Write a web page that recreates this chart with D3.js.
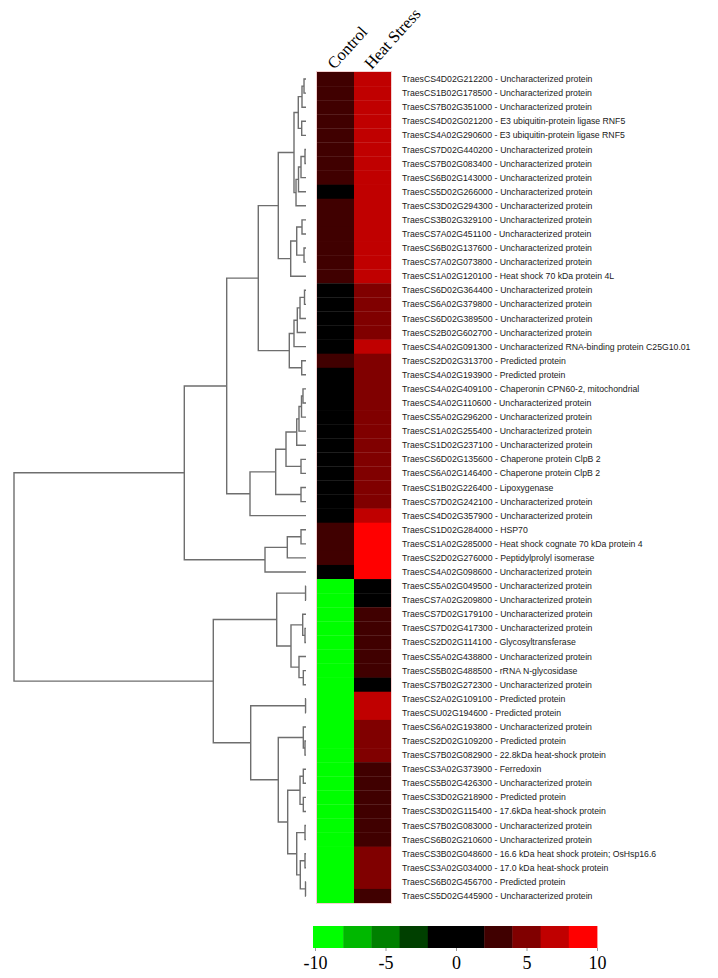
<!DOCTYPE html>
<html lang="en">
<head>
<meta charset="UTF-8">
<title>Heat stress heatmap</title>
<style>
  body { margin: 0; background: #fff; }
  svg { display: block; }
  .gene { font-family: "Liberation Sans", Arial, sans-serif; font-size: 8.7px; fill: #1a1a1a; }
  .serif { font-family: "Liberation Serif", "Times New Roman", serif; fill: #000; }
</style>
</head>
<body>
<svg id="chart"></svg>
<script src="https://cdn.jsdelivr.net/npm/d3@7/dist/d3.min.js"></script>
<script>
// rows, top to bottom
const genes = [
  "TraesCS4D02G212200 - Uncharacterized protein",
  "TraesCS1B02G178500 - Uncharacterized protein",
  "TraesCS7B02G351000 - Uncharacterized protein",
  "TraesCS4D02G021200 - E3 ubiquitin-protein ligase RNF5",
  "TraesCS4A02G290600 - E3 ubiquitin-protein ligase RNF5",
  "TraesCS7D02G440200 - Uncharacterized protein",
  "TraesCS7B02G083400 - Uncharacterized protein",
  "TraesCS6B02G143000 - Uncharacterized protein",
  "TraesCS5D02G266000 - Uncharacterized protein",
  "TraesCS3D02G294300 - Uncharacterized protein",
  "TraesCS3B02G329100 - Uncharacterized protein",
  "TraesCS7A02G451100 - Uncharacterized protein",
  "TraesCS6B02G137600 - Uncharacterized protein",
  "TraesCS7A02G073800 - Uncharacterized protein",
  "TraesCS1A02G120100 - Heat shock 70 kDa protein 4L",
  "TraesCS6D02G364400 - Uncharacterized protein",
  "TraesCS6A02G379800 - Uncharacterized protein",
  "TraesCS6D02G389500 - Uncharacterized protein",
  "TraesCS2B02G602700 - Uncharacterized protein",
  "TraesCS4A02G091300 - Uncharacterized RNA-binding protein C25G10.01",
  "TraesCS2D02G313700 - Predicted protein",
  "TraesCS4A02G193900 - Predicted protein",
  "TraesCS4A02G409100 - Chaperonin CPN60-2, mitochondrial",
  "TraesCS4A02G110600 - Uncharacterized protein",
  "TraesCS5A02G296200 - Uncharacterized protein",
  "TraesCS1A02G255400 - Uncharacterized protein",
  "TraesCS1D02G237100 - Uncharacterized protein",
  "TraesCS6D02G135600 - Chaperone protein ClpB 2",
  "TraesCS6A02G146400 - Chaperone protein ClpB 2",
  "TraesCS1B02G226400 - Lipoxygenase",
  "TraesCS7D02G242100 - Uncharacterized protein",
  "TraesCS4D02G357900 - Uncharacterized protein",
  "TraesCS1D02G284000 - HSP70",
  "TraesCS1A02G285000 - Heat shock cognate 70 kDa protein 4",
  "TraesCS2D02G276000 - Peptidylprolyl isomerase",
  "TraesCS4A02G098600 - Uncharacterized protein",
  "TraesCS5A02G049500 - Uncharacterized protein",
  "TraesCS7A02G209800 - Uncharacterized protein",
  "TraesCS7D02G179100 - Uncharacterized protein",
  "TraesCS7D02G417300 - Uncharacterized protein",
  "TraesCS2D02G114100 - Glycosyltransferase",
  "TraesCS5A02G438800 - Uncharacterized protein",
  "TraesCS5B02G488500 - rRNA N-glycosidase",
  "TraesCS7B02G272300 - Uncharacterized protein",
  "TraesCS2A02G109100 - Predicted protein",
  "TraesCSU02G194600 - Predicted protein",
  "TraesCS6A02G193800 - Uncharacterized protein",
  "TraesCS2D02G109200 - Predicted protein",
  "TraesCS7B02G082900 - 22.8kDa heat-shock protein",
  "TraesCS3A02G373900 - Ferredoxin",
  "TraesCS5B02G426300 - Uncharacterized protein",
  "TraesCS3D02G218900 - Predicted protein",
  "TraesCS3D02G115400 - 17.6kDa heat-shock protein",
  "TraesCS7B02G083000 - Uncharacterized protein",
  "TraesCS6B02G210600 - Uncharacterized protein",
  "TraesCS3B02G048600 - 16.6 kDa heat shock protein; OsHsp16.6",
  "TraesCS3A02G034000 - 17.0 kDa heat-shock protein",
  "TraesCS6B02G456700 - Predicted protein",
  "TraesCS5D02G445900 - Uncharacterized protein"
];

const conditions = ["Control", "Heat Stress"];

const control = [
  3.1, 2.9, 3.0, 3.2, 2.8, 3.0, 3.1, 2.9, 1.2, 3.0,
  3.1, 2.8, 3.0, 2.9, 3.2, 0.6, 0.4, 0.5, 0.7, 0.3,
  3.4, 0.5, 0.4, 0.6, 0.3, 0.5, 0.4, 0.6, 0.5, 0.3,
  0.4, 0.6, 3.0, 2.9, 3.1, 1.0, -9.6, -9.5, -9.7, -9.4,
  -9.6, -9.5, -9.8, -9.4, -9.6, -9.5, -9.7, -9.6, -9.5, -9.4,
  -9.6, -9.7, -9.5, -9.6, -9.4, -9.5, -9.6, -9.7, -9.5
];

const heat = [
  7.1, 6.9, 7.0, 7.2, 6.8, 7.0, 7.1, 6.9, 7.0, 7.2,
  6.9, 7.0, 7.1, 6.8, 7.0, 5.1, 4.9, 5.0, 5.2, 7.1,
  5.0, 4.8, 5.1, 5.0, 4.9, 5.2, 5.0, 4.9, 5.1, 5.0,
  4.8, 6.9, 9.5, 9.6, 9.4, 9.5, 0.8, 0.9, 3.0, 3.2,
  2.9, 3.1, 2.8, 0.9, 7.0, 6.9, 5.1, 5.0, 4.9, 3.1,
  3.0, 2.9, 3.2, 3.0, 2.8, 5.1, 5.0, 4.9, 3.0
];

// hclust style merges: negative = leaf row (1-based), positive = earlier merge
const merges = [
  [-1, -2, 0.68], [1, -3, 1.37], [-4, -5, 1.47], [2, 3, 2.64],
  [-6, -7, 0.34], [5, -8, 1.71], [6, -9, 2.57], [7, -10, 3.42],
  [4, 8, 4.11], [-11, -12, 1.37], [-13, -14, 0.68], [10, 11, 3.18],
  [12, -15, 5.24], [9, 13, 9.49], [-16, -17, 0.51], [15, -18, 2.05],
  [16, -19, 2.98], [17, -20, 4.11], [-21, -22, 1.47], [18, 19, 5.72],
  [14, 20, 16.34], [-23, -24, 1.03], [22, -25, 1.54], [23, -26, 2.40],
  [24, -27, 3.18], [-28, -29, 1.71], [25, 26, 6.85], [-30, -31, 1.71],
  [27, 28, 10.38], [29, -32, 19.18], [21, 30, 27.16], [-33, -34, 1.71],
  [32, -35, 6.40], [33, -36, 14.04], [31, 34, 41.68], [-37, -38, 0.15],
  [-40, -41, 0.34], [-39, 37, 1.13], [-43, -44, 0.92], [-42, 39, 2.40],
  [38, 40, 5.14], [36, 41, 10.03], [-45, -46, 0.15], [-48, -49, 0.34],
  [-47, 44, 0.92], [-50, -51, 0.92], [-52, -53, 0.92], [46, 47, 2.05],
  [-54, -55, 0.34], [-56, -57, 0.34], [-58, -59, 0.17], [50, 51, 1.95],
  [49, 52, 3.18], [48, 53, 6.27], [45, 54, 9.49], [43, 55, 18.94],
  [42, 56, 31.75], [35, 57, 100]
];

const legendColors = ["#00ff00", "#00b800", "#008000", "#004000", "#000000",
                      "#000000", "#400000", "#800000", "#c00000", "#ff0000"];
const legendTicks = [-10, -5, 0, 5, 10];

const width = 718, height = 978;

const svg = d3.select("#chart")
  .attr("width", width)
  .attr("height", height);

// scales
const y = d3.scaleBand()
  .domain(d3.range(genes.length))
  .range([72, 903]);

const col = d3.scaleBand()
  .domain(conditions)
  .range([317, 391]);

const xTree = d3.scaleLinear()
  .domain([0, d3.max(merges, d => d[2])])
  .range([306, 14]);

const color = d3.scaleQuantize()
  .domain([-10, 10])
  .range(legendColors);

// heatmap cells
const cells = [];
genes.forEach((g, i) => {
  cells.push({ row: i, cond: conditions[0], v: control[i] });
  cells.push({ row: i, cond: conditions[1], v: heat[i] });
});

svg.append("g")
  .selectAll("rect")
  .data(cells)
  .join("rect")
  .attr("x", d => col(d.cond))
  .attr("y", d => y(d.row))
  .attr("width", col.bandwidth())
  .attr("height", y.bandwidth() + 0.3)
  .attr("fill", d => color(d.v));

// thin light edge around the heatmap
svg.append("rect")
  .attr("x", col.range()[0] - 0.5)
  .attr("y", y.range()[0] - 0.5)
  .attr("width", col.range()[1] - col.range()[0] + 1)
  .attr("height", y.range()[1] - y.range()[0] + 1)
  .attr("fill", "none")
  .attr("stroke", "#f4d0d0")
  .attr("stroke-width", 1);

// column headers
svg.append("g")
  .selectAll("text")
  .data(conditions)
  .join("text")
  .attr("class", "serif")
  .attr("font-size", 16.5)
  .attr("transform", d => `translate(${col(d) + col.bandwidth() / 2 - 1},70) rotate(-48)`)
  .text(d => d);

// gene labels
svg.append("g")
  .selectAll("text")
  .data(genes)
  .join("text")
  .attr("class", "gene")
  .attr("x", 402)
  .attr("y", (d, i) => y(i) + y.bandwidth() / 2)
  .attr("dy", "0.35em")
  .text(d => d);

// dendrogram
const pos = i => i < 0
  ? { x: xTree(0), y: y(-i - 1) + y.bandwidth() / 2 }
  : nodes[i - 1];
const nodes = [];
const links = [];
merges.forEach(([a, b, h]) => {
  const pa = pos(a), pb = pos(b);
  const n = { x: xTree(h), y: (pa.y + pb.y) / 2 };
  nodes.push(n);
  links.push({ a: pa, b: pb, n });
});

svg.append("g")
  .attr("fill", "none")
  .attr("stroke", "#6e6e6e")
  .attr("stroke-width", 1.4)
  .selectAll("path")
  .data(links)
  .join("path")
  .attr("d", d => `M${d.a.x},${d.a.y}H${d.n.x}V${d.b.y}H${d.b.x}`);

// colour key
const legendX = d3.scaleLinear().domain([-10, 10]).range([315, 597]);
const step = 20 / legendColors.length;

const legend = svg.append("g");
legend.selectAll("rect")
  .data(legendColors)
  .join("rect")
  .attr("x", (d, i) => legendX(-10 + i * step) - (i === 0 ? 2 : 0))
  .attr("y", 926)
  .attr("width", (d, i) => legendX(step) - legendX(0) + 0.4 + (i === 0 ? 2 : 0))
  .attr("height", 22)
  .attr("fill", d => d);

const legendAxis = d3.axisBottom(legendX)
  .tickValues(legendTicks)
  .tickSize(3)
  .tickPadding(5)
  .tickFormat(d3.format("d"));

const ax = legend.append("g")
  .attr("transform", "translate(0,948)")
  .call(legendAxis);
ax.select(".domain").remove();
ax.selectAll(".tick line").attr("stroke", "#999");
ax.selectAll(".tick text")
  .attr("class", "serif")
  .attr("font-size", 18)
  .text(d => d < 0 ? "-" + Math.abs(d) : d);
</script>
</body>
</html>
